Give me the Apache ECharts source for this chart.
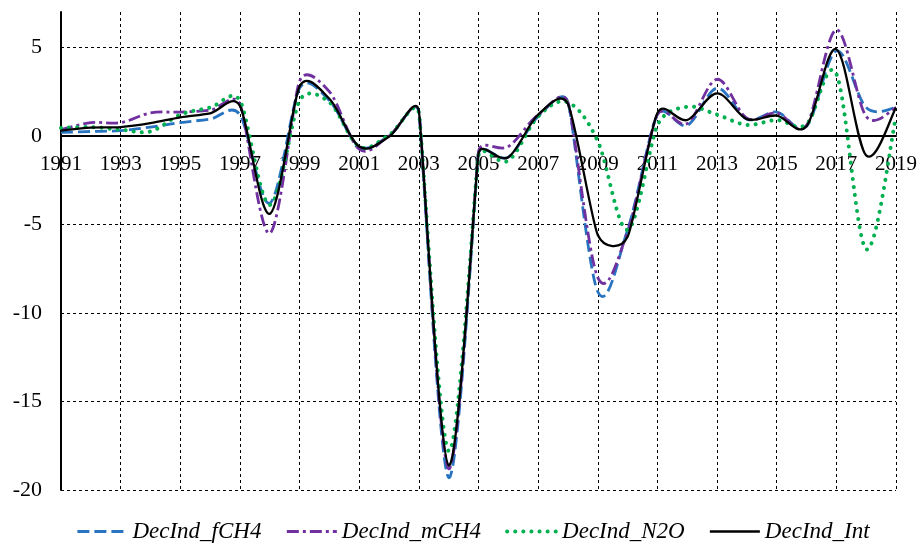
<!DOCTYPE html>
<html>
<head>
<meta charset="utf-8">
<script src="https://cdn.jsdelivr.net/npm/echarts@6/dist/echarts.min.js"></script>
<style>html,body{margin:0;padding:0;background:#fff;}#c{width:920px;height:543px;}</style>
</head>
<body>
<div id="c"></div>
<script>
var years = ['1991','1992','1993','1994','1995','1996','1997','1998','1999','2000','2001','2002','2003','2004','2005','2006','2007','2008','2009','2010','2011','2012','2013','2014','2015','2016','2017','2018','2019'];
var fCH4 = [0.2,0.25,0.3,0.5,0.75,0.95,1.2,-3.8,2.7,2.0,-0.6,0.0,1.35,-19.3,-1.0,-1.2,1.1,1.9,-8.8,-5.3,1.2,0.6,2.7,0.95,1.35,0.55,4.8,1.6,1.6];
var mCH4 = [0.35,0.75,0.75,1.3,1.35,1.45,1.8,-5.5,3.1,2.5,-0.75,0.0,1.35,-18.8,-0.9,-0.6,1.2,1.9,-8.0,-5.4,1.2,0.7,3.2,1.0,1.3,0.6,6.0,1.1,1.6];
var N2O = [0.45,0.5,0.35,0.25,1.2,1.6,2.0,-3.9,2.0,1.9,-0.6,0.05,1.3,-17.8,-1.1,-1.4,1.1,1.9,-0.3,-5.3,0.6,1.65,1.2,0.62,0.9,0.65,3.5,-6.4,1.1];
var Int = [0.3,0.47,0.5,0.72,1.05,1.28,1.7,-4.4,2.8,2.1,-0.6,-0.05,1.4,-18.6,-1.0,-1.2,1.2,1.8,-5.6,-5.7,1.3,0.9,2.4,0.95,1.15,0.55,4.9,-1.1,1.6];
var yTicks = [-20,-15,-10,-5,0,5];

var font = 'Liberation Serif';
var chart = echarts.init(document.getElementById('c'));

var styles = [
  {name: 'DecInd_fCH4', data: fCH4, color: '#2874C0', width: 2.8, dash: [12,5], cap: 'butt'},
  {name: 'DecInd_mCH4', data: mCH4, color: '#7030A0', width: 2.8, dash: [12,4,3,4], cap: 'butt'},
  {name: 'DecInd_N2O', data: N2O, color: '#00B050', width: 4, dash: [0.1,8], cap: 'round'},
  {name: 'DecInd_Int', data: Int, color: '#000000', width: 2.3, dash: null, cap: 'butt'}
];

function dist(a, b) { var dx = a[0] - b[0], dy = a[1] - b[1]; return Math.sqrt(dx * dx + dy * dy); }

// Excel-like smoothed path (Catmull-Rom tangents, capped by neighbouring segment lengths)
function curveSeries(s) {
  return {
    name: s.name, type: 'custom', z: 3,
    data: s.data.map(function (v, i) { return [i, v]; }),
    renderItem: function (params, api) {
      if (params.dataIndex !== 0) return null;
      var pts = s.data.map(function (v, i) { return api.coord([i, v]); });
      var n = pts.length;
      var tan = pts.map(function (p, i) {
        var a = pts[Math.max(0, i - 1)], b = pts[Math.min(n - 1, i + 1)];
        var tx = (b[0] - a[0]) / 6, ty = (b[1] - a[1]) / 6;
        var len = Math.sqrt(tx * tx + ty * ty);
        var lims = [];
        if (i > 0) lims.push(dist(p, a));
        if (i < n - 1) lims.push(dist(p, b));
        var cap = 0.5 * Math.min.apply(null, lims);
        if (len > cap && len > 0) { tx *= cap / len; ty *= cap / len; }
        return [tx, ty];
      });
      var d = 'M' + pts[0][0] + ' ' + pts[0][1];
      for (var i = 0; i < n - 1; i++) {
        var p1 = pts[i], p2 = pts[i + 1];
        d += ' C' + (p1[0] + tan[i][0]) + ' ' + (p1[1] + tan[i][1]) + ' ' +
             (p2[0] - tan[i + 1][0]) + ' ' + (p2[1] - tan[i + 1][1]) + ' ' + p2[0] + ' ' + p2[1];
      }
      return {
        type: 'path', shape: {pathData: d},
        style: {fill: null, stroke: s.color, lineWidth: s.width, lineDash: s.dash, lineCap: s.cap}
      };
    }
  };
}
function legendSeries(s) {
  return {
    name: s.name, type: 'line', data: s.data, symbol: 'none', silent: true,
    lineStyle: {color: s.color, width: s.width, type: s.dash || 'solid', cap: s.cap, opacity: 0},
    itemStyle: {color: s.color}
  };
}

var series = styles.map(legendSeries).concat(styles.map(curveSeries));

chart.setOption({
  animation: false,
  backgroundColor: '#fff',
  grid: {left: 61, right: 24, top: 12, bottom: 53},
  legend: {
    top: 515, left: 71, itemWidth: 50, itemHeight: 14, itemGap: 24,
    itemStyle: {opacity: 0},
    textStyle: {fontFamily: font, fontStyle: 'italic', fontSize: 23, color: '#000'},
    data: styles.map(function (s) {
      return {name: s.name, lineStyle: {color: s.color, width: s.width, type: s.dash || 'solid', cap: s.cap, opacity: 1}};
    })
  },
  xAxis: {
    type: 'category', data: years, boundaryGap: false,
    position: 'top', offset: -124,
    axisLine: {onZero: false, lineStyle: {color: '#000', width: 2}},
    axisTick: {show: false},
    axisLabel: {interval: 1, inside: true, fontFamily: font, fontSize: 21, color: '#000', margin: 18},
    splitLine: {show: true, interval: 1, lineStyle: {color: '#000', width: 1, type: [3,3]}}
  },
  yAxis: {
    type: 'value', min: yTicks[0], max: 7, interval: 5,
    axisLine: {show: true, onZero: false, lineStyle: {color: '#000', width: 2}},
    axisTick: {show: false},
    axisLabel: {showMaxLabel: false, fontFamily: font, fontSize: 22, color: '#000', margin: 19},
    splitLine: {show: true, lineStyle: {color: ['#000','#000','#000','#000','rgba(0,0,0,0)','#000','rgba(0,0,0,0)'], width: 1, type: [3,3]}}
  },
  series: series
});
</script>
</body>
</html>
